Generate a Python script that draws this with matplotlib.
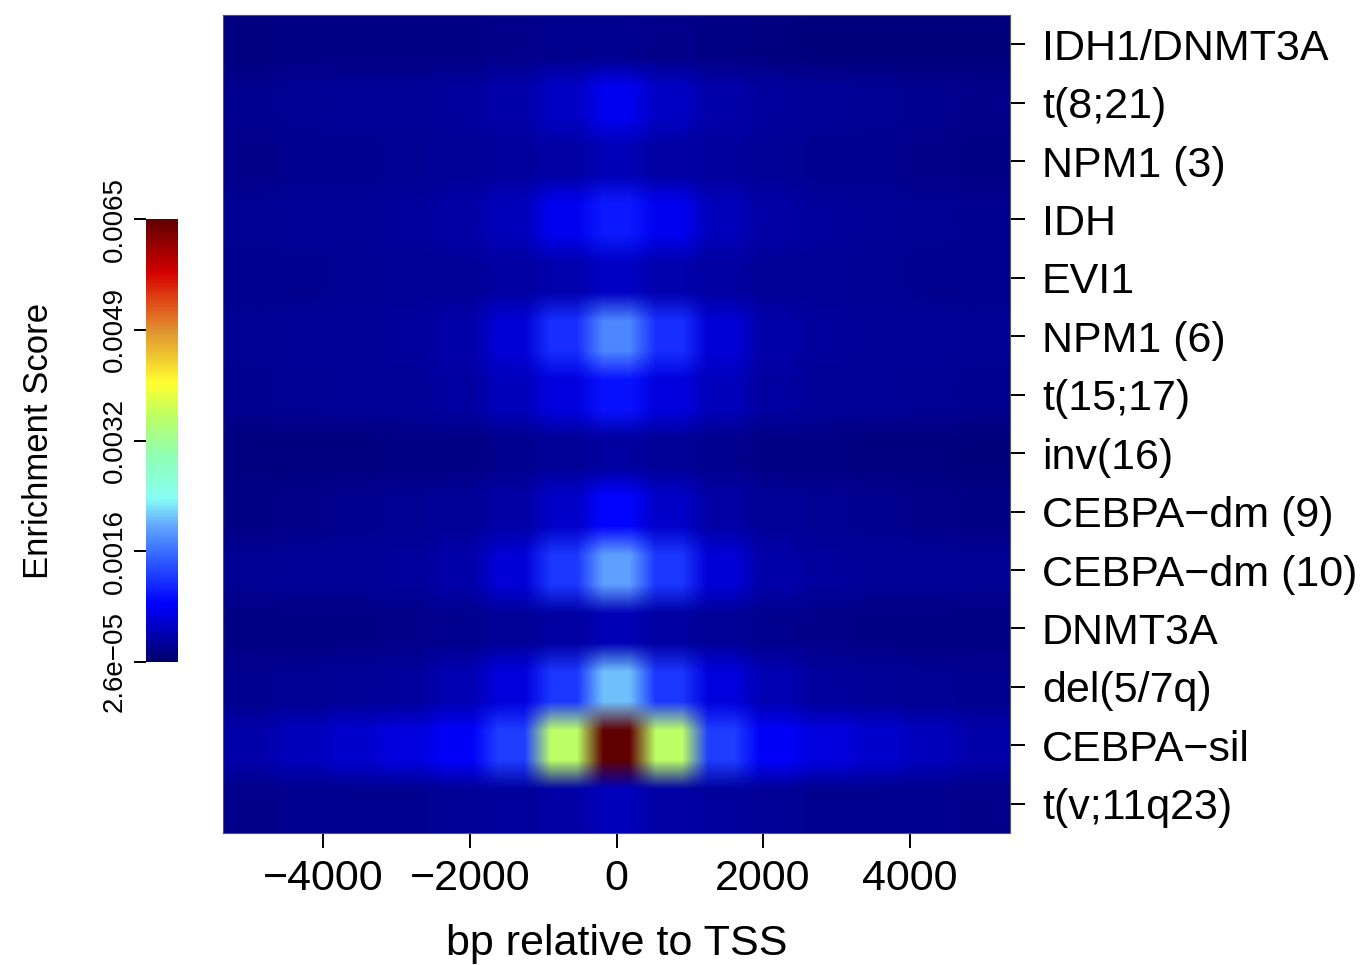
import numpy as np
import matplotlib
matplotlib.use("Agg")
import matplotlib.pyplot as plt
from matplotlib.colors import LinearSegmentedColormap

plt.rcParams['font.family'] = ['Liberation Sans', 'DejaVu Sans']

# subgroups, top to bottom
groups = ["IDH1/DNMT3A", "t(8;21)", "NPM1 (3)", "IDH", "EVI1", "NPM1 (6)",
          "t(15;17)", "inv(16)", "CEBPA\u2212dm (9)", "CEBPA\u2212dm (10)",
          "DNMT3A", "del(5/7q)", "CEBPA\u2212sil", "t(v;11q23)"]

# window around the TSS (bp), 15 bins
window_bp = (-5370, 5370)
x_ticks = [-4000, -2000, 0, 2000, 4000]

# enrichment per bin (x 1e-4)
scores = np.array([
    [1.6, 1.8, 1.8, 1.8, 2.0, 2.2, 2.3, 2.4, 2.2, 2.0, 1.6, 1.4, 1.3, 1.3, 1.3],
    [2.4, 2.6, 2.8, 3.0, 3.2, 4.0, 5.5, 8.0, 5.5, 4.0, 3.2, 2.8, 2.6, 2.4, 2.2],
    [2.2, 2.4, 2.5, 2.6, 2.8, 3.2, 3.8, 4.6, 3.8, 3.2, 2.8, 2.5, 2.3, 2.2, 2.0],
    [2.6, 2.8, 3.0, 3.2, 3.6, 5.0, 8.0, 10.6, 8.0, 5.0, 3.6, 3.2, 2.9, 2.7, 2.5],
    [2.4, 2.5, 2.6, 2.8, 3.0, 3.4, 4.2, 5.5, 4.2, 3.4, 3.0, 2.8, 2.6, 2.4, 2.3],
    [2.6, 2.8, 3.0, 3.2, 4.0, 6.4, 12.0, 18.0, 12.0, 6.4, 4.0, 3.2, 3.0, 2.8, 2.6],
    [2.4, 2.6, 2.8, 3.0, 3.4, 5.0, 7.0, 10.0, 7.0, 5.0, 3.4, 3.0, 2.8, 2.6, 2.4],
    [1.6, 1.6, 1.7, 1.8, 2.0, 2.4, 2.8, 3.4, 2.8, 2.4, 2.0, 1.8, 1.7, 1.6, 1.5],
    [2.0, 2.2, 2.4, 2.6, 3.0, 3.8, 5.6, 9.0, 5.6, 3.8, 3.0, 2.6, 2.4, 2.2, 2.0],
    [2.6, 2.8, 3.0, 3.2, 4.0, 6.4, 12.5, 19.5, 12.5, 6.4, 4.0, 3.2, 3.0, 2.8, 2.6],
    [1.8, 1.9, 2.0, 2.1, 2.3, 2.8, 3.4, 4.6, 3.4, 2.8, 2.3, 2.1, 2.0, 1.9, 1.8],
    [2.4, 2.6, 2.8, 3.2, 4.5, 7.0, 12.5, 21.5, 12.5, 7.0, 4.5, 3.2, 2.8, 2.6, 2.4],
    [4.0, 5.0, 6.0, 7.0, 8.5, 13.0, 36.0, 65.0, 36.0, 13.0, 8.5, 7.0, 6.0, 5.0, 4.0],
    [2.2, 2.3, 2.4, 2.5, 2.8, 3.2, 3.8, 5.0, 3.8, 3.2, 2.8, 2.5, 2.4, 2.3, 2.2],
]) * 1e-4

score_min = 2.6e-05
score_max = 0.0065
cbar_labels = ["2.6e\u221205", "0.0016", "0.0032", "0.0049", "0.0065"]

cmap = LinearSegmentedColormap.from_list("enrich", [
    (0.00, "#00006B"),
    (0.13, "#0000FF"),
    (0.24, "#3366FF"),
    (0.31, "#66AAFF"),
    (0.37, "#88FFF4"),
    (0.47, "#90FFB0"),
    (0.56, "#C0FF60"),
    (0.63, "#FFFF30"),
    (0.75, "#E09030"),
    (0.81, "#E05018"),
    (0.88, "#D40000"),
    (1.00, "#600000"),
])

fig = plt.figure(figsize=(13.66, 9.65), dpi=100)
ax = fig.add_axes([0.1633, 0.1368, 0.5761, 0.8477])

# each bin split in 2x2 so smoothing softens the bin borders but keeps a core
rep = 2
grid = np.repeat(np.repeat(scores, rep, axis=0), rep, axis=1)
im = ax.imshow(grid, cmap=cmap, vmin=score_min, vmax=score_max,
               aspect='auto', interpolation='bilinear', interpolation_stage='rgba',
               extent=[window_bp[0], window_bp[1], len(groups) - 0.5, -0.5])

ax.set_xlim(window_bp)
ax.set_xticks(x_ticks)
ax.set_xticklabels([str(t).replace('-', '\u2212') for t in x_ticks], fontsize=31)
ax.set_xlabel("bp relative to TSS", fontsize=31, labelpad=18)

ax.set_yticks(range(len(groups)))
ax.set_yticklabels(groups, fontsize=31)
ax.yaxis.tick_right()
ax.tick_params(axis='y', length=11, width=1.4, pad=12)
ax.tick_params(axis='x', length=11, width=1.4, pad=8)
for s in ax.spines.values():
    s.set_linewidth(0.8)
    s.set_color('#555555')

# colour key on the left
cax = fig.add_axes([0.1069, 0.314, 0.0234, 0.459])
cb = fig.colorbar(im, cax=cax, ticks=np.linspace(score_min, score_max, 5))
cb.outline.set_linewidth(0)
cax.yaxis.set_ticks_position('left')
cax.yaxis.set_label_position('left')
cax.set_yticklabels(cbar_labels, rotation=90, va='center', fontsize=20)
cax.tick_params(axis='y', length=9, width=1.4, pad=4)
cb.set_label("Enrichment Score", fontsize=25, labelpad=34)

fig.savefig("out.png", dpi=100)
